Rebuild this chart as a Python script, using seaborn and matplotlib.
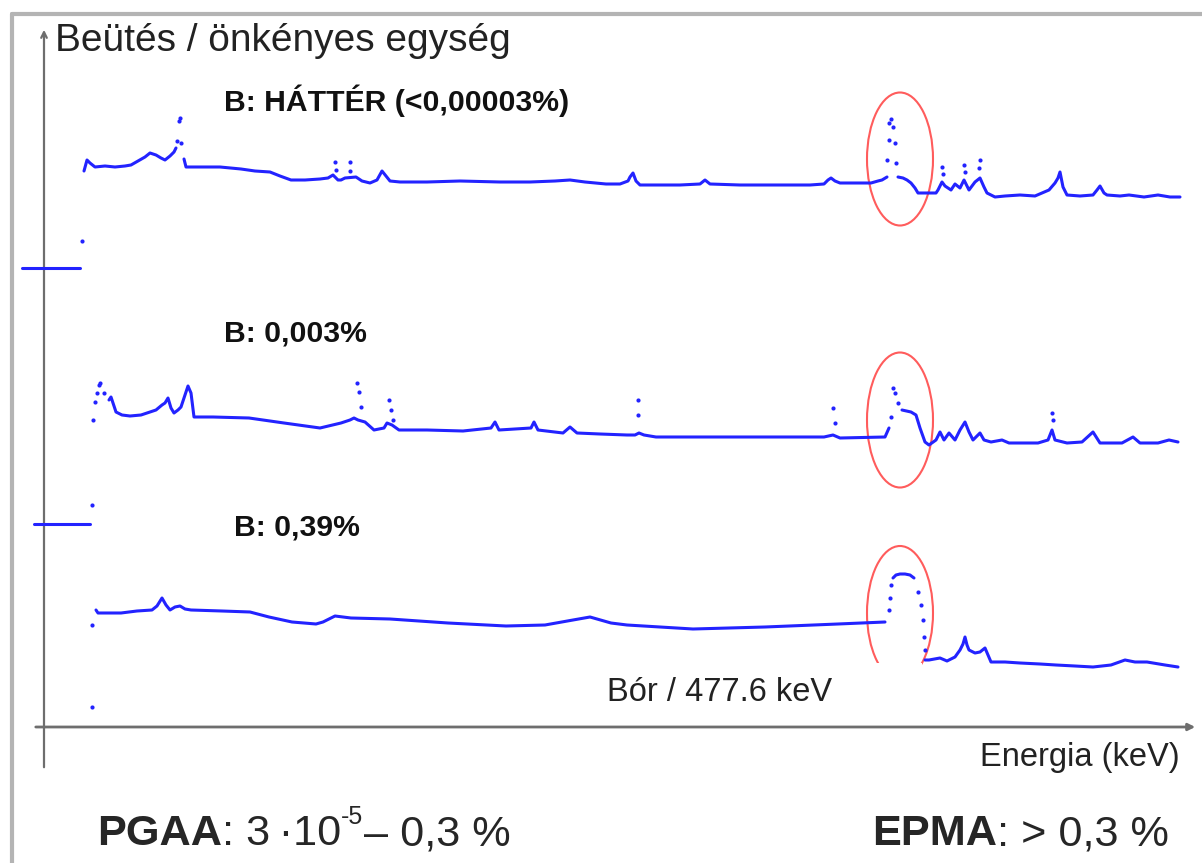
import matplotlib
matplotlib.use("Agg")
import matplotlib.pyplot as plt
import seaborn as sns
import pandas as pd
from matplotlib import font_manager
from matplotlib.patches import Ellipse, Rectangle

# Spectra: (energy channel, counts) in arbitrary units,
# split into segments where the original shows only scattered points.
bg_line = [
    [(84, 29), (87, 40), (90, 37), (95, 33), (105, 34), (115, 33), (125, 34), (131, 35),
     (138, 39), (145, 43), (150, 47), (156, 45), (161, 42), (165, 40), (170, 44), (174, 48),
     (176, 52)],
    [(184, 41), (186, 33), (200, 33), (220, 33), (241, 31), (255, 29), (270, 28), (280, 24),
     (291, 20), (305, 20), (320, 21), (328, 22), (333, 25), (338, 20), (341, 20), (345, 22),
     (356, 23), (362, 19), (370, 17), (377, 20), (382, 29), (386, 24), (390, 19), (400, 18),
     (427, 18), (460, 19), (500, 18), (530, 18), (555, 19), (570, 20), (585, 18), (606, 16),
     (620, 16), (628, 19), (630, 23), (633, 27), (636, 19), (640, 15), (660, 15), (680, 15),
     (700, 16), (705, 20), (710, 16), (740, 15), (780, 15), (810, 15), (824, 16), (828, 20),
     (831, 22), (835, 19), (840, 17), (853, 17), (871, 17), (878, 19), (882, 20), (887, 23)],
    [(898, 23), (903, 22), (907, 20), (911, 17), (915, 12), (918, 7), (925, 7), (936, 7),
     (938, 10), (942, 18), (945, 14), (951, 10), (955, 16), (960, 12), (964, 20), (966, 16),
     (969, 10), (975, 18), (980, 22), (984, 13), (987, 7), (995, 3), (1005, 4), (1020, 5),
     (1035, 4), (1049, 10), (1055, 17), (1058, 22), (1060, 28), (1063, 13), (1067, 5),
     (1080, 4), (1093, 5), (1097, 10), (1100, 14), (1104, 7), (1107, 5), (1120, 4), (1129, 5),
     (1144, 3), (1158, 5), (1170, 3), (1180, 3)],
    [(22, -68), (80, -68)],
]
bg_dots = [(177, 59), (179, 79), (180, 82), (181, 57), (335, 38), (336, 30), (350, 38),
           (350, 29), (889, 77), (891, 81), (893, 73), (889, 60), (895, 57), (887, 40),
           (896, 37), (942, 33), (943, 26), (964, 35), (965, 28), (980, 40), (979, 32),
           (82, -41)]

low_line = [
    [(109, 50), (111, 53), (113, 47), (116, 38), (122, 35), (130, 34), (141, 35), (150, 38),
     (156, 40), (162, 45), (165, 47), (168, 52), (171, 42), (174, 37), (178, 40), (181, 43),
     (184, 52), (188, 64), (191, 57), (194, 33), (213, 33), (249, 32), (284, 27), (320, 22),
     (341, 27), (350, 30), (354, 32), (358, 30), (365, 28), (374, 20), (384, 22), (387, 27),
     (392, 25), (399, 20), (427, 20), (463, 19), (491, 22), (495, 28), (499, 20), (531, 22),
     (534, 28), (538, 20), (563, 17), (570, 23), (577, 17), (600, 16), (627, 15), (635, 15),
     (639, 17), (644, 15), (656, 13), (700, 13), (760, 13), (824, 13), (833, 15), (840, 12),
     (885, 13), (889, 22)],
    [(902, 40), (911, 38), (916, 35), (920, 22), (925, 8), (929, 5), (936, 10), (940, 18),
     (944, 10), (949, 17), (955, 10), (960, 20), (965, 28), (969, 18), (973, 10), (980, 17),
     (984, 10), (991, 8), (1002, 10), (1009, 7), (1016, 7), (1038, 7), (1048, 10), (1052, 20),
     (1055, 10), (1067, 7), (1082, 8), (1093, 18), (1100, 7), (1122, 7), (1133, 13),
     (1140, 7), (1158, 7), (1169, 10), (1178, 8)],
    [(34, -74), (90, -74)],
]
low_dots = [(93, 30), (95, 48), (97, 57), (99, 65), (100, 67), (104, 57), (357, 67),
            (359, 58), (361, 43), (389, 50), (391, 40), (393, 30), (638, 50), (638, 35),
            (833, 42), (835, 27), (891, 33), (893, 62), (895, 57), (898, 47), (1052, 37),
            (1053, 30), (92, -55)]

high_line = [
    [(96, 70), (98, 67), (121, 67), (137, 69), (152, 70), (157, 74), (162, 82), (166, 75),
     (170, 70), (175, 73), (180, 74), (185, 71), (191, 70), (222, 69), (250, 68), (269, 63),
     (292, 58), (316, 56), (323, 58), (335, 64), (351, 62), (390, 61), (448, 57), (506, 54),
     (545, 55), (573, 60), (590, 63), (611, 57), (627, 55), (693, 51), (765, 53), (838, 56),
     (885, 58)],
    [(893, 102), (896, 105), (900, 106), (905, 106), (910, 105), (914, 102)],
    [(925, 20), (929, 20), (940, 22), (947, 19), (955, 23), (960, 30), (963, 36), (965, 43),
     (967, 35), (969, 30), (975, 27), (980, 28), (985, 32), (991, 18), (1005, 18), (1020, 17),
     (1040, 16), (1056, 15), (1075, 14), (1093, 13), (1111, 15), (1125, 20), (1135, 18),
     (1147, 18), (1165, 15), (1178, 13)],
]
high_dots = [(92, 55), (92, -27), (889, 70), (890, 82), (891, 95), (918, 88), (921, 75),
             (923, 60), (924, 43), (925, 30)]

spectrum_labels = ["B: HÁTTÉR (<0,00003%)", "B: 0,003%", "B: 0,39%"]
y_label = "Beütés / önkényes egység"
x_label = "Energia (keV)"
peak_label = "Bór / 477.6 keV"

sns.set_theme(style="white")
names = {f.name for f in font_manager.fontManager.ttflist}
has_narrow = "Liberation Sans Narrow" in names
NARROW = "Liberation Sans Narrow" if has_narrow else "Liberation Sans"
k = 1.0 if has_narrow else 0.82
plt.rcParams["font.family"] = ["Liberation Sans", "DejaVu Sans"]

fig = plt.figure(figsize=(12.02, 8.63), dpi=100)
ax = fig.add_axes([0, 0, 1, 1])
ax.set_xlim(0, 1202)
ax.set_ylim(0, 863)
ax.axis("off")

blue = "#2323ff"
offsets = [663, 413, 183]
for lines, dots, off in zip([bg_line, low_line, high_line],
                            [bg_dots, low_dots, high_dots], offsets):
    rows = [(e, c + off, i) for i, seg in enumerate(lines) for e, c in seg]
    df = pd.DataFrame(rows, columns=["energy", "y", "seg"])
    sns.lineplot(data=df, x="energy", y="y", units="seg", estimator=None, sort=False,
                 color=blue, lw=2.2, ax=ax, zorder=5)
    dd = pd.DataFrame([(e, c + off) for e, c in dots], columns=["energy", "y"])
    sns.scatterplot(data=dd, x="energy", y="y", color=blue, s=9, linewidth=0, ax=ax,
                    zorder=5)

# red ellipses around the boron peak
for cy, h in [(704, 133), (443, 135), (250, 134)]:
    ax.add_patch(Ellipse((900, cy), 66, h, fill=False, ec="#ff5c5c", lw=1.5, zorder=2))
ax.add_patch(Rectangle((588, 137), 334, 63, fc="white", ec="none", zorder=3))

# frame and axes arrows
gray = "#6e6e6e"
ax.plot([12, 12], [0, 849], color="#b4b4b4", lw=3, zorder=1)
ax.plot([12, 1202], [849, 849], color="#b4b4b4", lw=3, zorder=1)
ax.annotate("", xy=(44, 836), xytext=(44, 93),
            arrowprops=dict(arrowstyle="->", color=gray, lw=1.6, mutation_scale=10), zorder=4)
ax.annotate("", xy=(1198, 136), xytext=(33, 136),
            arrowprops=dict(arrowstyle="-|>", color=gray, lw=2, mutation_scale=10), zorder=4)

# texts
ax.text(55, 822, y_label, fontsize=28, color="#222222", va="center", ha="left")
ax.text(1180, 106, x_label, fontsize=23.5, color="#222222", va="center", ha="right")
ax.text(607, 171, peak_label, fontsize=23.5, color="#222222", va="center", ha="left", zorder=6)
for (x, y), lab in zip([(224, 762), (224, 530), (234, 336)], spectrum_labels):
    ax.text(x, y, lab, fontsize=26.5 * k, family=NARROW, weight="bold", color="#111111",
            va="center", ha="left")

t1 = ax.text(97, 18, "PGAA", fontsize=38 * k, family=NARROW, weight="bold", va="baseline")
t2 = ax.annotate(": 3\u2009\u00b710", xy=(1, 0), xycoords=t1, fontsize=38 * k, family=NARROW,
                 va="bottom")
t3 = ax.annotate("-5", xy=(1, 0.62), xycoords=t2, fontsize=22 * k, family=NARROW,
                 va="bottom")
ax.annotate("\u2013 0,3 %", xy=(1, 0), xycoords=(t3, t2), fontsize=38 * k, family=NARROW,
            va="bottom")
e1 = ax.text(872, 18, "EPMA", fontsize=38 * k, family=NARROW, weight="bold", va="baseline")
ax.annotate(": > 0,3 %", xy=(1, 0), xycoords=e1, fontsize=38 * k, family=NARROW,
            va="bottom")

fig.savefig("out.png", dpi=100)
